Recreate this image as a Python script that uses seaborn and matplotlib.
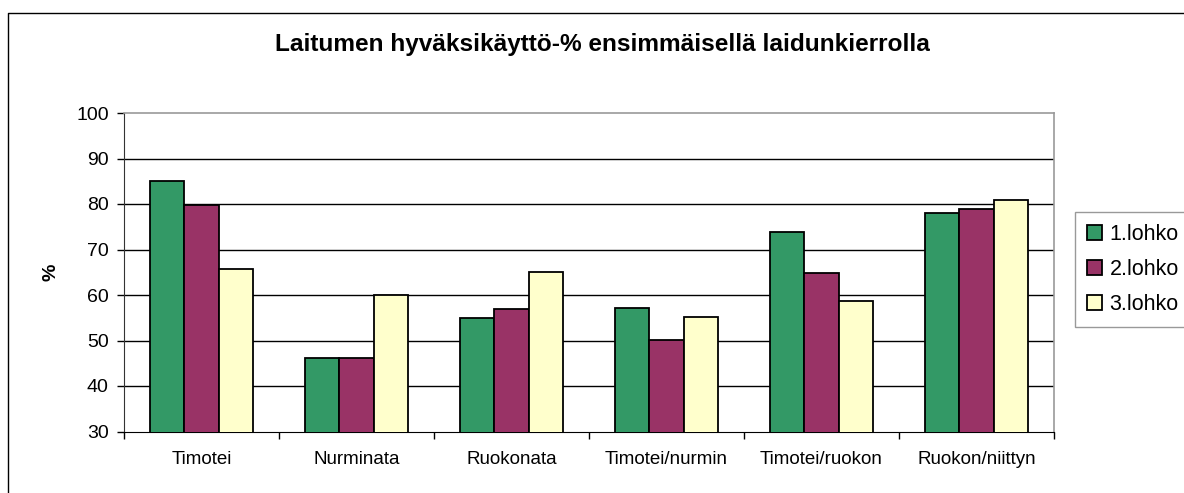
import numpy as np
import pandas as pd
import matplotlib
matplotlib.use("Agg")
import matplotlib.pyplot as plt
from matplotlib.lines import Line2D
import seaborn as sns

# Data
kasvit = ["Timotei", "Nurminata", "Ruokonata", "Timotei/nurmin", "Timotei/ruokon", "Ruokon/niittyn"]
lohkot = ["1.lohko", "2.lohko", "3.lohko"]
lohko1 = [85.1, 46.1, 55.0, 57.1, 73.9, 78.0]
lohko2 = [79.7, 46.1, 57.0, 50.1, 64.9, 78.8]
lohko3 = [65.7, 60.0, 65.0, 55.1, 58.7, 80.9]
yticks = [30, 40, 50, 60, 70, 80, 90, 100]
varit = ["#339966", "#993366", "#FFFFCC"]

df = pd.DataFrame({
    "kasvi": kasvit * 3,
    "lohko": [l for l in lohkot for _ in kasvit],
    "arvo": lohko1 + lohko2 + lohko3,
})

sns.set_style("white")
plt.rcParams["font.family"] = ["Liberation Sans", "DejaVu Sans"]
plt.rcParams.update({"text.color": "black", "axes.labelcolor": "black",
                     "xtick.color": "black", "ytick.color": "black"})

fig = plt.figure(figsize=(11.84, 4.93), dpi=100)
ax = fig.add_axes([124 / 1184, 61.5 / 493, 930 / 1184, 318.5 / 493])

sns.barplot(data=df, x="kasvi", y="arvo", hue="lohko", order=kasvit, hue_order=lohkot,
            palette=varit, saturation=1, width=0.67, edgecolor="black", linewidth=1.3,
            ax=ax, zorder=3)

handles, labels = ax.get_legend_handles_labels()
if ax.get_legend() is not None:
    ax.get_legend().remove()

ax.set_ylim(30, 100)
ax.set_xlim(-0.5, 5.5)
ax.set_yticks(yticks)
ax.set_yticklabels([str(t) for t in yticks], fontsize=14)
ax.set_xticks(range(len(kasvit)))
ax.set_xticklabels(kasvit, fontsize=13.5)
ax.set_xticks(np.arange(-0.5, 6.0, 1.0), minor=True)
ax.tick_params(axis="x", which="major", length=0, pad=14)
ax.tick_params(axis="x", which="minor", length=5, width=1, color="black", direction="out", bottom=True)
ax.tick_params(axis="y", length=5, width=1, color="black", direction="out", left=True, pad=6)
ax.set_xlabel("")
ax.set_ylabel("%", fontsize=14, fontweight="bold", labelpad=12)

for y in yticks[1:-1]:
    ax.axhline(y, color="black", linewidth=1, zorder=1)

for side in ["top", "right"]:
    ax.spines[side].set_color("#999999")
    ax.spines[side].set_linewidth(1.2)
ax.spines["left"].set_color("#333333")
ax.spines["bottom"].set_color("black")
for side in ax.spines:
    ax.spines[side].set_visible(True)

fig.suptitle("Laitumen hyväksikäyttö-% ensimmäisellä laidunkierrolla",
             fontsize=17.6, fontweight="bold", x=602 / 1184, y=1 - 45 / 493, va="center")

leg = fig.legend(handles, labels, loc="upper left", bbox_to_anchor=(1075 / 1184, 1 - 212 / 493),
                 fontsize=15.5, frameon=True, fancybox=False, handlelength=0.7, handleheight=0.7,
                 handletextpad=0.35, labelspacing=0.65, borderpad=0.55, borderaxespad=0)
leg.get_frame().set_edgecolor("#808080")
leg.get_frame().set_linewidth(1)

# outer chart border (top and left edges visible)
fig.add_artist(Line2D([8 / 1184, 8 / 1184, 1.0], [0.0, 1 - 13 / 493, 1 - 13 / 493],
                      transform=fig.transFigure, color="black", linewidth=1))

fig.savefig("out.png", dpi=100)
